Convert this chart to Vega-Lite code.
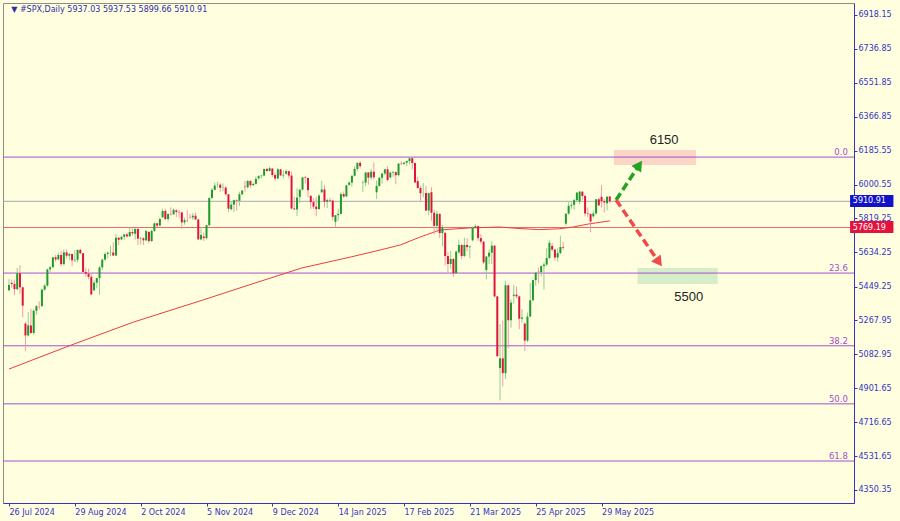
{
"$schema":"https://vega.github.io/schema/vega-lite/v6.json",
"width":851,"height":500,
"autosize":{"type":"none"},
"padding":{"left":3,"top":3,"right":46,"bottom":18},
"background":"#ffffe0",
"config":{"view":{"stroke":"#8c8c8c","fill":"#ffffe0"},"font":"DejaVu Sans","axis":{"labelOverlap":false,"labelFlush":false,"labelBound":false}},
"datasets":{
"candles":[
{"i":0,"o":5430,"h":5490,"l":5425,"c":5459},{"i":1,"o":5470,"h":5487,"l":5444,"c":5464},{"i":2,"o":5464,"h":5489,"l":5403,"c":5436},{"i":3,"o":5436,"h":5551,"l":5430,"c":5522},{"i":4,"o":5522,"h":5566,"l":5410,"c":5446},{"i":5,"o":5446,"h":5450,"l":5283,"c":5347},{"i":6,"o":5250,"h":5260,"l":5100,"c":5186},{"i":7,"o":5186,"h":5312,"l":5180,"c":5240},{"i":8,"o":5240,"h":5330,"l":5195,"c":5199},{"i":9,"o":5199,"h":5327,"l":5190,"c":5319},
{"i":10,"o":5319,"h":5350,"l":5298,"c":5344},{"i":11,"o":5345,"h":5371,"l":5325,"c":5344},{"i":12,"o":5344,"h":5436,"l":5340,"c":5434},{"i":13,"o":5434,"h":5464,"l":5426,"c":5455},{"i":14,"o":5455,"h":5546,"l":5450,"c":5543},{"i":15,"o":5543,"h":5561,"l":5528,"c":5554},{"i":16,"o":5555,"h":5609,"l":5550,"c":5608},{"i":17,"o":5608,"h":5621,"l":5585,"c":5597},{"i":18,"o":5597,"h":5633,"l":5591,"c":5621},{"i":19,"o":5621,"h":5643,"l":5560,"c":5571},
{"i":20,"o":5571,"h":5651,"l":5565,"c":5635},{"i":21,"o":5635,"h":5651,"l":5602,"c":5617},{"i":22,"o":5617,"h":5631,"l":5593,"c":5626},{"i":23,"o":5626,"h":5627,"l":5560,"c":5592},{"i":24,"o":5592,"h":5646,"l":5583,"c":5595},{"i":25,"o":5595,"h":5651,"l":5581,"c":5648},{"i":26,"o":5648,"h":5655,"l":5625,"c":5630},{"i":27,"o":5630,"h":5632,"l":5521,"c":5529},{"i":28,"o":5529,"h":5552,"l":5503,"c":5520},{"i":29,"o":5520,"h":5546,"l":5491,"c":5503},
{"i":30,"o":5503,"h":5522,"l":5403,"c":5408},{"i":31,"o":5430,"h":5484,"l":5425,"c":5471},{"i":32,"o":5471,"h":5497,"l":5441,"c":5496},{"i":33,"o":5496,"h":5560,"l":5406,"c":5554},{"i":34,"o":5554,"h":5598,"l":5539,"c":5596},{"i":35,"o":5596,"h":5636,"l":5590,"c":5626},{"i":36,"o":5626,"h":5640,"l":5604,"c":5633},{"i":37,"o":5633,"h":5670,"l":5614,"c":5634},{"i":38,"o":5634,"h":5690,"l":5615,"c":5618},{"i":39,"o":5618,"h":5733,"l":5615,"c":5714},
{"i":40,"o":5714,"h":5720,"l":5674,"c":5703},{"i":41,"o":5705,"h":5725,"l":5700,"c":5719},{"i":42,"o":5719,"h":5735,"l":5703,"c":5732},{"i":43,"o":5732,"h":5741,"l":5713,"c":5722},{"i":44,"o":5722,"h":5767,"l":5718,"c":5745},{"i":45,"o":5745,"h":5764,"l":5727,"c":5738},{"i":46,"o":5735,"h":5763,"l":5704,"c":5762},{"i":47,"o":5762,"h":5765,"l":5675,"c":5709},{"i":48,"o":5709,"h":5720,"l":5678,"c":5711},{"i":49,"o":5711,"h":5718,"l":5675,"c":5700},
{"i":50,"o":5700,"h":5753,"l":5695,"c":5751},{"i":51,"o":5745,"h":5750,"l":5683,"c":5696},{"i":52,"o":5696,"h":5757,"l":5690,"c":5751},{"i":53,"o":5751,"h":5796,"l":5745,"c":5792},{"i":54,"o":5792,"h":5795,"l":5764,"c":5780},{"i":55,"o":5780,"h":5823,"l":5774,"c":5815},{"i":56,"o":5825,"h":5871,"l":5820,"c":5859},{"i":57,"o":5859,"h":5871,"l":5809,"c":5815},{"i":58,"o":5815,"h":5844,"l":5802,"c":5843},{"i":59,"o":5843,"h":5878,"l":5835,"c":5841},
{"i":60,"o":5841,"h":5872,"l":5838,"c":5865},{"i":61,"o":5862,"h":5868,"l":5825,"c":5853},{"i":62,"o":5853,"h":5864,"l":5822,"c":5851},{"i":63,"o":5851,"h":5855,"l":5762,"c":5797},{"i":64,"o":5797,"h":5822,"l":5784,"c":5809},{"i":65,"o":5809,"h":5862,"l":5799,"c":5808},{"i":66,"o":5825,"h":5843,"l":5816,"c":5824},{"i":67,"o":5824,"h":5847,"l":5810,"c":5833},{"i":68,"o":5833,"h":5851,"l":5811,"c":5813},{"i":69,"o":5813,"h":5815,"l":5703,"c":5705},
{"i":70,"o":5705,"h":5772,"l":5700,"c":5729},{"i":71,"o":5720,"h":5742,"l":5696,"c":5712},{"i":72,"o":5712,"h":5783,"l":5705,"c":5782},{"i":73,"o":5782,"h":5933,"l":5775,"c":5929},{"i":74,"o":5929,"h":5983,"l":5925,"c":5973},{"i":75,"o":5973,"h":6012,"l":5970,"c":5996},{"i":76,"o":6000,"h":6018,"l":5986,"c":6001},{"i":77,"o":6001,"h":6009,"l":5963,"c":5984},{"i":78,"o":5984,"h":6008,"l":5966,"c":5985},{"i":79,"o":5985,"h":5993,"l":5942,"c":5949},
{"i":80,"o":5949,"h":5950,"l":5853,"c":5871},{"i":81,"o":5868,"h":5908,"l":5862,"c":5893},{"i":82,"o":5893,"h":5920,"l":5853,"c":5917},{"i":83,"o":5917,"h":5921,"l":5860,"c":5914},{"i":84,"o":5914,"h":5963,"l":5885,"c":5949},{"i":85,"o":5949,"h":5972,"l":5944,"c":5969},{"i":86,"o":5990,"h":6021,"l":5963,"c":5987},{"i":87,"o":5987,"h":6025,"l":5980,"c":6021},{"i":88,"o":6021,"h":6025,"l":5984,"c":5998},{"i":89,"o":5998,"h":6012,"l":5995,"c":6005},
{"i":90,"o":6005,"h":6045,"l":6000,"c":6032},{"i":91,"o":6035,"h":6053,"l":6028,"c":6047},{"i":92,"o":6047,"h":6052,"l":6034,"c":6050},{"i":93,"o":6050,"h":6087,"l":6045,"c":6086},{"i":94,"o":6086,"h":6091,"l":6070,"c":6075},{"i":95,"o":6075,"h":6099,"l":6072,"c":6090},{"i":96,"o":6088,"h":6092,"l":6042,"c":6053},{"i":97,"o":6053,"h":6065,"l":6022,"c":6034},{"i":98,"o":6034,"h":6092,"l":6030,"c":6084},{"i":99,"o":6084,"h":6086,"l":6048,"c":6051},
{"i":100,"o":6051,"h":6078,"l":6035,"c":6054},{"i":101,"o":6060,"h":6085,"l":6055,"c":6074},{"i":102,"o":6074,"h":6076,"l":6035,"c":6050},{"i":103,"o":6050,"h":6071,"l":5867,"c":5872},{"i":104,"o":5872,"h":5935,"l":5866,"c":5867},{"i":105,"o":5867,"h":5982,"l":5832,"c":5931},{"i":106,"o":5935,"h":5978,"l":5902,"c":5974},{"i":107,"o":5974,"h":6041,"l":5970,"c":6040},{"i":108,"o":6040,"h":6049,"l":6007,"c":6037},{"i":109,"o":6037,"h":6040,"l":5932,"c":5971},
{"i":110,"o":5940,"h":5945,"l":5868,"c":5907},{"i":111,"o":5907,"h":5929,"l":5869,"c":5882},{"i":112,"o":5882,"h":5935,"l":5830,"c":5869},{"i":113,"o":5869,"h":5950,"l":5865,"c":5942},{"i":114,"o":5960,"h":6022,"l":5955,"c":5975},{"i":115,"o":5975,"h":6000,"l":5877,"c":5909},{"i":116,"o":5909,"h":5927,"l":5874,"c":5918},{"i":117,"o":5918,"h":5930,"l":5905,"c":5915},{"i":118,"o":5915,"h":5918,"l":5809,"c":5827},{"i":119,"o":5800,"h":5837,"l":5773,"c":5836},
{"i":120,"o":5836,"h":5871,"l":5805,"c":5843},{"i":121,"o":5843,"h":5960,"l":5840,"c":5950},{"i":122,"o":5950,"h":5964,"l":5930,"c":5937},{"i":123,"o":5937,"h":6000,"l":5935,"c":5997},{"i":124,"o":6000,"h":6020,"l":5995,"c":6012},{"i":125,"o":6012,"h":6051,"l":5990,"c":6049},{"i":126,"o":6049,"h":6100,"l":6045,"c":6086},{"i":127,"o":6086,"h":6121,"l":6075,"c":6119},{"i":128,"o":6119,"h":6128,"l":6088,"c":6101},{"i":129,"o":6010,"h":6025,"l":5962,"c":6012},
{"i":130,"o":6012,"h":6070,"l":5994,"c":6067},{"i":131,"o":6067,"h":6070,"l":6001,"c":6039},{"i":132,"o":6039,"h":6087,"l":6028,"c":6071},{"i":133,"o":6071,"h":6121,"l":6030,"c":6041},{"i":134,"o":5960,"h":6023,"l":5923,"c":5994},{"i":135,"o":5994,"h":6042,"l":5990,"c":6038},{"i":136,"o":6038,"h":6062,"l":6007,"c":6061},{"i":137,"o":6061,"h":6086,"l":6052,"c":6084},{"i":138,"o":6084,"h":6101,"l":6019,"c":6026},{"i":139,"o":6040,"h":6073,"l":6035,"c":6066},
{"i":140,"o":6066,"h":6076,"l":6043,"c":6069},{"i":141,"o":6069,"h":6073,"l":6003,"c":6052},{"i":142,"o":6052,"h":6116,"l":6045,"c":6115},{"i":143,"o":6115,"h":6127,"l":6107,"c":6113},{"i":144,"o":6113,"h":6125,"l":6108,"c":6120},{"i":145,"o":6120,"h":6131,"l":6100,"c":6129},{"i":146,"o":6129,"h":6147,"l":6111,"c":6144},{"i":147,"o":6144,"h":6146,"l":6084,"c":6118},{"i":148,"o":6118,"h":6120,"l":6009,"c":6013},{"i":149,"o":6020,"h":6044,"l":5979,"c":5983},
{"i":150,"o":5983,"h":5993,"l":5908,"c":5955},{"i":151,"o":5955,"h":6010,"l":5932,"c":5956},{"i":152,"o":5956,"h":5994,"l":5858,"c":5861},{"i":153,"o":5861,"h":5959,"l":5837,"c":5955},{"i":154,"o":5960,"h":5987,"l":5806,"c":5849},{"i":155,"o":5849,"h":5865,"l":5732,"c":5778},{"i":156,"o":5778,"h":5860,"l":5742,"c":5843},{"i":157,"o":5843,"h":5845,"l":5711,"c":5739},{"i":158,"o":5739,"h":5783,"l":5667,"c":5770},{"i":159,"o":5740,"h":5745,"l":5565,"c":5615},
{"i":160,"o":5615,"h":5636,"l":5529,"c":5572},{"i":161,"o":5572,"h":5642,"l":5546,"c":5599},{"i":162,"o":5599,"h":5605,"l":5504,"c":5522},{"i":163,"o":5522,"h":5645,"l":5520,"c":5639},{"i":164,"o":5635,"h":5704,"l":5628,"c":5675},{"i":165,"o":5675,"h":5680,"l":5597,"c":5615},{"i":166,"o":5615,"h":5715,"l":5610,"c":5675},{"i":167,"o":5675,"h":5711,"l":5640,"c":5663},{"i":168,"o":5663,"h":5671,"l":5603,"c":5667},{"i":169,"o":5700,"h":5775,"l":5695,"c":5768},
{"i":170,"o":5768,"h":5787,"l":5765,"c":5777},{"i":171,"o":5777,"h":5780,"l":5697,"c":5712},{"i":172,"o":5712,"h":5733,"l":5681,"c":5693},{"i":173,"o":5693,"h":5695,"l":5572,"c":5581},{"i":174,"o":5540,"h":5615,"l":5489,"c":5612},{"i":175,"o":5612,"h":5651,"l":5571,"c":5633},{"i":176,"o":5633,"h":5695,"l":5572,"c":5671},{"i":177,"o":5671,"h":5675,"l":5390,"c":5397},{"i":178,"o":5397,"h":5400,"l":5069,"c":5074},{"i":179,"o":5010,"h":5247,"l":4835,"c":5062},
{"i":180,"o":5062,"h":5267,"l":4910,"c":4982},{"i":181,"o":4982,"h":5481,"l":4950,"c":5457},{"i":182,"o":5457,"h":5460,"l":5115,"c":5268},{"i":183,"o":5268,"h":5381,"l":5228,"c":5363},{"i":184,"o":5400,"h":5459,"l":5358,"c":5406},{"i":185,"o":5406,"h":5450,"l":5386,"c":5397},{"i":186,"o":5397,"h":5400,"l":5220,"c":5276},{"i":187,"o":5276,"h":5328,"l":5255,"c":5283},{"i":188,"o":5250,"h":5255,"l":5101,"c":5158},{"i":189,"o":5158,"h":5309,"l":5150,"c":5288},
{"i":190,"o":5288,"h":5469,"l":5285,"c":5376},{"i":191,"o":5376,"h":5486,"l":5371,"c":5485},{"i":192,"o":5485,"h":5528,"l":5455,"c":5525},{"i":193,"o":5530,"h":5553,"l":5468,"c":5528},{"i":194,"o":5528,"h":5565,"l":5505,"c":5561},{"i":195,"o":5561,"h":5581,"l":5434,"c":5569},{"i":196,"o":5569,"h":5658,"l":5560,"c":5604},{"i":197,"o":5604,"h":5700,"l":5600,"c":5687},{"i":198,"o":5670,"h":5685,"l":5640,"c":5650},{"i":199,"o":5650,"h":5652,"l":5590,"c":5607},
{"i":200,"o":5607,"h":5656,"l":5585,"c":5631},{"i":201,"o":5631,"h":5725,"l":5625,"c":5664},{"i":202,"o":5664,"h":5691,"l":5648,"c":5660},{"i":203,"o":5790,"h":5845,"l":5780,"c":5844},{"i":204,"o":5844,"h":5906,"l":5839,"c":5887},{"i":205,"o":5887,"h":5906,"l":5868,"c":5892},{"i":206,"o":5892,"h":5924,"l":5866,"c":5917},{"i":207,"o":5917,"h":5960,"l":5907,"c":5958},{"i":208,"o":5910,"h":5968,"l":5895,"c":5963},{"i":209,"o":5963,"h":5965,"l":5920,"c":5940},
{"i":210,"o":5940,"h":5945,"l":5830,"c":5845},{"i":211,"o":5845,"h":5878,"l":5827,"c":5842},{"i":212,"o":5842,"h":5845,"l":5745,"c":5802},{"i":213,"o":5830,"h":5860,"l":5820,"c":5845},{"i":214,"o":5845,"h":5924,"l":5840,"c":5922},{"i":215,"o":5922,"h":5930,"l":5886,"c":5889},{"i":216,"o":5935,"h":5999,"l":5877,"c":5912},{"i":217,"o":5912,"h":5925,"l":5850,"c":5905},{"i":218,"o":5900,"h":5937,"l":5861,"c":5936},{"i":219,"o":5937.03,"h":5937.53,"l":5899.66,"c":5910.91}
],
"ma":[{"i":0,"p":5004},{"i":22.7,"p":5134},{"i":45.4,"p":5258},{"i":70.6,"p":5377},{"i":88.6,"p":5464},{"i":106.6,"p":5550},{"i":124.6,"p":5610},{"i":135.4,"p":5648},{"i":142.7,"p":5675},{"i":149.9,"p":5718},{"i":157.1,"p":5756},{"i":167.9,"p":5767},{"i":178.7,"p":5772},{"i":185.9,"p":5764},{"i":193.1,"p":5758},{"i":200.3,"p":5762},{"i":205.7,"p":5772},{"i":211.1,"p":5788},{"i":219,"p":5805}],
"fib":[{"p":6150,"t":"0.0"},{"p":5523,"t":"23.6"},{"p":5130,"t":"38.2"},{"p":4816,"t":"50.0"},{"p":4507,"t":"61.8"}]
},
"layer":[
{"data":{"values":[{"i":220.5,"i2":250.4,"p":6188,"p2":6107}]},"mark":{"type":"rect","color":"#fbd6c6"},
 "encoding":{
  "x":{"field":"i","type":"quantitative","scale":{"domain":[-0.36,306.2],"nice":false,"zero":false},"axis":{"values":[0,24,48,72,96,120,144,168,192,216],"tickCount":40,"labelExpr":"['26 Jul 2024','29 Aug 2024','2 Oct 2024','5 Nov 2024','9 Dec 2024','14 Jan 2025','17 Feb 2025','21 Mar 2025','25 Apr 2025','29 May 2025'][round(datum.value/24)]","labelAlign":"left","labelColor":"#3434c4","labelFont":"DejaVu Sans","labelFontSize":8,"labelPadding":2,"tickColor":"#3434c4","tickSize":3,"domainColor":"#3434c4","grid":false,"title":null,"labelOverlap":false,"labelFlush":false}},
  "x2":{"field":"i2"},
  "y":{"field":"p","type":"quantitative","scale":{"domain":[4280,6983],"nice":false,"zero":false},"axis":{"orient":"right","values":[6918.15,6736.85,6551.85,6366.85,6185.55,6000.55,5819.25,5634.25,5449.25,5267.95,5082.95,4901.65,4716.65,4531.65,4350.35],"tickCount":40,"format":".2f","labelAlign":"left","labelBaseline":"middle","labelColor":"#3434c4","labelFont":"DejaVu Sans","labelFontSize":8,"labelPadding":1,"tickColor":"#3434c4","tickSize":3,"domainColor":"#3434c4","grid":false,"title":null,"labelOverlap":false,"labelFlush":false}},
  "y2":{"field":"p2"}}},
{"data":{"values":[{"i":229.1,"i2":258.3,"p":5550,"p2":5464}]},"mark":{"type":"rect","color":"#d6edc8"},
 "encoding":{"x":{"field":"i","type":"quantitative"},"x2":{"field":"i2"},"y":{"field":"p","type":"quantitative"},"y2":{"field":"p2"}}},
{"data":{"name":"fib"},"mark":{"type":"rule","color":"#a64fd0","strokeWidth":1},"encoding":{"y":{"field":"p","type":"quantitative"}}},
{"data":{"values":[{"p":5910.91}]},"mark":{"type":"rule","color":"#a3aab8","strokeWidth":1},"encoding":{"y":{"field":"p","type":"quantitative"}}},
{"data":{"values":[{"p":5769.19}]},"mark":{"type":"rule","color":"#e86a6a","strokeWidth":1},"encoding":{"y":{"field":"p","type":"quantitative"}}},
{"data":{"name":"ma"},"mark":{"type":"line","color":"#f03c3c","strokeWidth":1},"encoding":{"x":{"field":"i","type":"quantitative"},"y":{"field":"p","type":"quantitative"}}},
{"data":{"name":"candles"},"mark":{"type":"rule","strokeWidth":1},
 "encoding":{"x":{"field":"i","type":"quantitative"},"y":{"field":"l","type":"quantitative"},"y2":{"field":"h"},
  "color":{"condition":{"test":"datum.c >= datum.o","value":"#8fcf8f"},"value":"#f29aaa"}}},
{"data":{"name":"candles"},"mark":{"type":"bar","size":2},
 "encoding":{"x":{"field":"i","type":"quantitative"},"y":{"field":"o","type":"quantitative"},"y2":{"field":"c"},
  "color":{"condition":{"test":"datum.c >= datum.o","value":"#1f9a2c"},"value":"#e0143c"}}},
{"data":{"values":[{"i":221.3,"p":5918},{"i":229.7,"p":6107}]},"mark":{"type":"line","color":"#22a322","strokeWidth":3.5,"strokeDash":[8,4]},"encoding":{"x":{"field":"i","type":"quantitative"},"y":{"field":"p","type":"quantitative"}}},
{"data":{"values":[{"i":229.7,"p":6107}]},"mark":{"type":"point","shape":"triangle-up","filled":true,"size":140,"angle":34,"color":"#22a322","opacity":1},"encoding":{"x":{"field":"i","type":"quantitative"},"y":{"field":"p","type":"quantitative"}}},
{"data":{"values":[{"i":221.3,"p":5918},{"i":236.9,"p":5582}]},"mark":{"type":"line","color":"#f04a4a","strokeWidth":3.5,"strokeDash":[8,4]},"encoding":{"x":{"field":"i","type":"quantitative"},"y":{"field":"p","type":"quantitative"}}},
{"data":{"values":[{"i":236.9,"p":5582}]},"mark":{"type":"point","shape":"triangle-up","filled":true,"size":140,"angle":144,"color":"#f04a4a","opacity":1},"encoding":{"x":{"field":"i","type":"quantitative"},"y":{"field":"p","type":"quantitative"}}},
{"data":{"values":[{"i":238.8,"p":6242,"t":"6150"},{"i":247.8,"p":5394,"t":"5500"}]},"mark":{"type":"text","font":"Liberation Sans","fontSize":13,"color":"#222222","baseline":"middle"},"encoding":{"x":{"field":"i","type":"quantitative"},"y":{"field":"p","type":"quantitative"},"text":{"field":"t"}}},
{"data":{"name":"fib"},"mark":{"type":"text","align":"right","baseline":"alphabetic","dy":-2,"fontSize":8.5,"color":"#a050c8"},"encoding":{"x":{"datum":305.8,"type":"quantitative"},"y":{"field":"p","type":"quantitative"},"text":{"field":"t"}}},
{"data":{"values":[{"i":0.8,"p":6945,"t":"▼ #SPX,Daily  5937.03 5937.53 5899.66 5910.91"}]},"mark":{"type":"text","align":"left","baseline":"middle","fontSize":8,"color":"#2e2ea8"},"encoding":{"x":{"field":"i","type":"quantitative"},"y":{"field":"p","type":"quantitative"},"text":{"field":"t"}}},
{"data":{"values":[{"i":306.6,"i2":322.4,"p":5945,"p2":5880},{"i":306.6,"i2":322.4,"p":5804,"p2":5740}]},"mark":{"type":"rect","clip":false},
 "encoding":{"x":{"field":"i","type":"quantitative"},"x2":{"field":"i2"},"y":{"field":"p","type":"quantitative"},"y2":{"field":"p2"},"color":{"condition":{"test":"datum.p > 5900","value":"#1212c8"},"value":"#e4113c"}}},
{"data":{"values":[{"i":307.6,"p":5910.91,"t":"5910.91"},{"i":307.6,"p":5769.19,"t":"5769.19"}]},"mark":{"type":"text","clip":false,"align":"left","baseline":"middle","fontSize":8,"color":"#ffffff"},"encoding":{"x":{"field":"i","type":"quantitative"},"y":{"field":"p","type":"quantitative"},"text":{"field":"t"}}}
]
}
